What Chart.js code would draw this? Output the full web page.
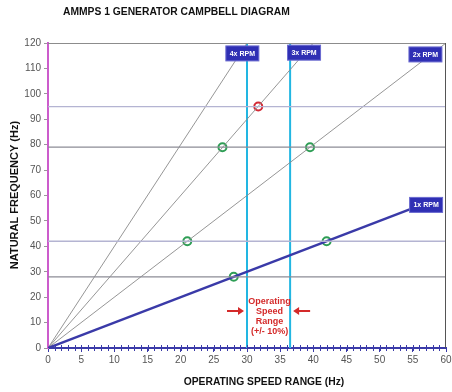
<!DOCTYPE html>
<html>
<head>
<meta charset="utf-8">
<script src="https://cdn.jsdelivr.net/npm/chart.js@4.4.0/dist/chart.umd.min.js"></script>
<style>
  html, body { margin: 0; padding: 0; background: #fff; }
  #wrap { width: 452px; height: 392px; }
</style>
</head>
<body>
<div id="wrap"><canvas id="myChart" width="452" height="392"></canvas></div>
<script>
// chart values
var orderLabels = ['1x RPM', '2x RPM', '3x RPM', '4x RPM'];
var orderEndSpeed = [56, 60, 40, 30];
var orderEndFreq = [56, 120, 120, 120];

var naturalFreqs = [95, 79, 42, 28];
var naturalColors = ['#b4b4d2', '#8c8c96', '#b4b4d2', '#8c8c96'];

var crossSpeed = [31.7, 26.3, 39.5, 21, 42, 28];
var crossFreq = [95, 79, 79, 42, 42, 28];
var crossColors = ['#d42a36', '#2e9e55', '#2e9e55', '#2e9e55', '#2e9e55', '#2e9e55'];

var opRange = [30, 36.5];

var xTicks = [0, 5, 10, 15, 20, 25, 30, 35, 40, 45, 50, 55, 60];
var yTicks = [0, 10, 20, 30, 40, 50, 60, 70, 80, 90, 100, 110, 120];

var datasets = [];

// natural frequency lines
for (var i = 0; i < naturalFreqs.length; i++) {
    datasets.push({
        data: [{x: 0, y: naturalFreqs[i]}, {x: 60, y: naturalFreqs[i]}],
        showLine: true,
        borderColor: naturalColors[i],
        borderWidth: 1.3,
        pointRadius: 0
    });
}

// engine order lines
for (var j = 0; j < orderLabels.length; j++) {
    datasets.push({
        data: [{x: 0, y: 0}, {x: orderEndSpeed[j], y: orderEndFreq[j]}],
        showLine: true,
        borderColor: j === 0 ? '#3a3aa8' : '#8a8a8a',
        borderWidth: j === 0 ? 2.5 : 0.9,
        pointRadius: 0
    });
}

// operating speed range
for (var k = 0; k < opRange.length; k++) {
    datasets.push({
        data: [{x: opRange[k], y: 0}, {x: opRange[k], y: 120}],
        showLine: true,
        borderColor: '#22b6e2',
        borderWidth: 2,
        pointRadius: 0
    });
}

// crossings
datasets.push({
    data: crossSpeed.map(function (s, n) { return {x: s, y: crossFreq[n]}; }),
    showLine: false,
    pointRadius: 4,
    pointBorderWidth: 2,
    pointBackgroundColor: '#ffffff',
    pointBorderColor: crossColors
});

var boxPos = [[57.0, 56.3], [56.9, 115.5], [38.6, 116.2], [29.3, 115.9]];

var extras = {
    id: 'extras',
    afterDraw: function (chart) {
        var ctx = chart.ctx;
        var xs = chart.scales.x, ys = chart.scales.y;
        var a = chart.chartArea;
        ctx.save();

        // top / right frame
        ctx.strokeStyle = '#8c8c8c';
        ctx.lineWidth = 1;
        ctx.beginPath();
        ctx.moveTo(a.left, a.top + 0.5);
        ctx.lineTo(a.right, a.top + 0.5);
        ctx.stroke();
        ctx.strokeStyle = '#555';
        ctx.beginPath();
        ctx.moveTo(a.right - 0.5, a.top);
        ctx.lineTo(a.right - 0.5, a.bottom);
        ctx.stroke();

        // minor ticks crossing the x axis
        ctx.strokeStyle = '#3a3aa8';
        ctx.lineWidth = 1;
        for (var t = 1; t < 60; t++) {
            var px = Math.round(xs.getPixelForValue(t)) + 0.5;
            ctx.beginPath();
            ctx.moveTo(px, a.bottom - 3);
            ctx.lineTo(px, a.bottom + 3);
            ctx.stroke();
        }

        // order labels
        ctx.font = 'bold 7px "Liberation Sans", Arial, sans-serif';
        ctx.textAlign = 'center';
        ctx.textBaseline = 'middle';
        for (var b = 0; b < orderLabels.length; b++) {
            var cx = xs.getPixelForValue(boxPos[b][0]);
            var cy = ys.getPixelForValue(boxPos[b][1]);
            ctx.fillStyle = '#2f2fb4';
            ctx.fillRect(cx - 16.5, cy - 7.5, 33, 15);
            ctx.strokeStyle = '#6a6ad0';
            ctx.strokeRect(cx - 16.5, cy - 7.5, 33, 15);
            ctx.fillStyle = '#ffffff';
            ctx.fillText(orderLabels[b], cx, cy + 0.5);
        }

        // operating speed range note
        var mid = xs.getPixelForValue((opRange[0] + opRange[1]) / 2);
        ctx.fillStyle = '#d42a2a';
        ctx.font = 'bold 9px "Liberation Sans", Arial, sans-serif';
        var lines = ['Operating', 'Speed', 'Range', '(+/- 10%)'];
        for (var l = 0; l < lines.length; l++) {
            ctx.fillText(lines[l], mid + 1, 302 + l * 10);
        }
        var ay = ys.getPixelForValue(14.6);
        var lx = xs.getPixelForValue(opRange[0]);
        var rx = xs.getPixelForValue(opRange[1]);
        ctx.strokeStyle = '#d42a2a';
        ctx.lineWidth = 2;
        ctx.beginPath();
        ctx.moveTo(lx - 20, ay); ctx.lineTo(lx - 7, ay);
        ctx.moveTo(rx + 20, ay); ctx.lineTo(rx + 7, ay);
        ctx.stroke();
        ctx.beginPath();
        ctx.moveTo(lx - 3, ay); ctx.lineTo(lx - 9, ay - 4); ctx.lineTo(lx - 9, ay + 4); ctx.closePath();
        ctx.moveTo(rx + 3, ay); ctx.lineTo(rx + 9, ay - 4); ctx.lineTo(rx + 9, ay + 4); ctx.closePath();
        ctx.fill();

        // titles
        ctx.fillStyle = '#111';
        ctx.textAlign = 'left';
        ctx.font = 'bold 10.3px "Liberation Sans", Arial, sans-serif';
        ctx.fillText('AMMPS 1 GENERATOR CAMPBELL DIAGRAM', 63, 12);
        ctx.textAlign = 'center';
        ctx.fillText('OPERATING SPEED RANGE (Hz)', 264, 382);
        ctx.translate(15, 195);
        ctx.rotate(-Math.PI / 2);
        ctx.font = 'bold 11px "Liberation Sans", Arial, sans-serif';
        ctx.fillText('NATURAL FREQUENCY (Hz)', 0, 0);
        ctx.restore();
    }
};

var ctx = document.getElementById('myChart').getContext('2d');
var campbell = new Chart(ctx, {
    type: 'scatter',
    data: { datasets: datasets },
    options: {
        responsive: false,
        animation: false,
        layout: { padding: { top: 43, right: 4, left: 0, bottom: 0 } },
        plugins: {
            legend: { display: false },
            tooltip: { enabled: false },
            title: { display: false }
        },
        scales: {
            x: {
                type: 'linear',
                min: 0,
                max: 60,
                afterBuildTicks: function (scale) {
                    scale.ticks = xTicks.map(function (v) { return {value: v}; });
                },
                afterFit: function (scale) {
                    scale.height = 44;
                    scale.paddingRight = 0;
                },
                ticks: {
                    color: '#555',
                    font: { family: '"Liberation Sans", Arial, sans-serif', size: 10 },
                    padding: 2,
                    maxRotation: 0
                },
                grid: { drawOnChartArea: false, tickLength: 4, color: '#3a3aa8' },
                border: { color: '#3a3aa8', width: 2 }
            },
            y: {
                type: 'linear',
                min: 0,
                max: 120,
                afterBuildTicks: function (scale) {
                    scale.ticks = yTicks.map(function (v) { return {value: v}; });
                },
                afterFit: function (scale) { scale.width = 48; },
                ticks: {
                    color: '#555',
                    font: { family: '"Liberation Sans", Arial, sans-serif', size: 10 },
                    padding: 3
                },
                grid: { drawOnChartArea: false, tickLength: 4, color: '#999' },
                border: { color: '#cc5ccc', width: 2 }
            }
        }
    },
    plugins: [extras]
});
</script>
</body>
</html>
